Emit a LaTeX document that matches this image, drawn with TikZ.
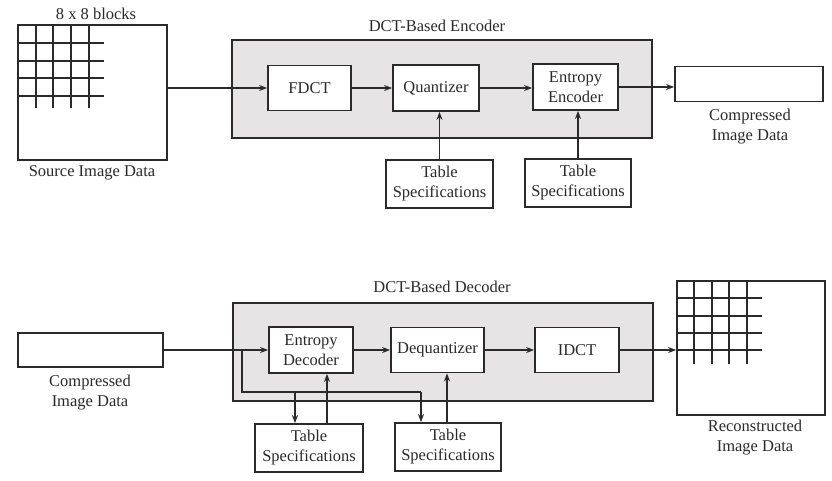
\documentclass[tikz,border=0pt]{standalone}
\usepackage{fontspec}
\setmainfont{Liberation Serif}
\usetikzlibrary{arrows.meta}
\definecolor{ink}{HTML}{2A2A2A}
\definecolor{panel}{HTML}{E6E4E4}
\tikzset{
  txt/.style={font=\fontsize{16.5}{20}\selectfont, text=ink, align=center, inner sep=0pt},
  blockbox/.style={draw=ink, line width=1.8pt, fill=white, txt},
  outerbox/.style={draw=ink, line width=1.8pt, fill=panel},
  conn/.style={draw=ink, line width=1.3pt},
  arr/.style={conn, -{Stealth[length=8pt,width=6pt]}},
  gridline/.style={draw=ink, line width=2pt}
}
\begin{document}
\begin{tikzpicture}[x=1pt,y=-1pt]
\useasboundingbox (0,0) rectangle (832,480);
\fill[white] (0,0) rectangle (832,480);

% ---------------- Encoder ----------------
\node[outerbox, minimum width=420pt, minimum height=98pt] (enc) at (442,89) {};
\node[txt] (enclab) at (437,26) {DCT-Based Encoder};

\node[blockbox, minimum width=149pt, minimum height=135pt] (src) at (92.5,92.5) {};
\foreach \xx in {36,53,71,89} \draw[gridline] (\xx,25) -- (\xx,108);
\foreach \yy in {43,61,78,96} \draw[gridline] (18,\yy) -- (104,\yy);
\node[txt] (srclab) at (96,14) {8 x 8 blocks};
\node[txt] (srcname) at (92,173) {Source Image Data};

\node[blockbox, minimum width=83pt, minimum height=45pt] (fdct) at (309.5,88) {FDCT};
\node[blockbox, minimum width=86pt, minimum height=46pt] (quant) at (436,88) {Quantizer};
\node[blockbox, minimum width=85pt, minimum height=46pt] (ent) at (575.5,87) {Entropy\\Encoder};
\node[blockbox, minimum width=107pt, minimum height=48pt] (ts1) at (439.5,184) {Table\\Specifications};
\node[blockbox, minimum width=106pt, minimum height=48pt] (ts2) at (578,183) {Table\\Specifications};
\node[blockbox, minimum width=148pt, minimum height=35pt] (cmp) at (749,84) {};
\node[txt] (cmplab) at (750,127) {Compressed\\Image Data};

\draw[arr] (fdct.west -| src.east) -- (fdct.west);
\draw[arr] (fdct.east) -- (quant.west);
\draw[arr] (quant.east) -- (quant.east -| ent.west);
\draw[arr] (ent.east) -- (ent.east -| cmp.west);
\draw[arr] (ts1.north) -- (ts1.north |- quant.south);
\draw[arr] (ts2.north) -- (ts2.north |- ent.south);

% ---------------- Decoder ----------------
\node[outerbox, minimum width=420pt, minimum height=98pt] (dec) at (443,352) {};
\node[txt] (declab) at (442,287) {DCT-Based Decoder};

\node[blockbox, minimum width=145pt, minimum height=34pt] (cmp2) at (90.5,350) {};
\node[txt] (cmp2lab) at (90,393) {Compressed\\Image Data};

\node[blockbox, minimum width=84pt, minimum height=46pt] (edec) at (311,350) {Entropy\\Decoder};
\node[blockbox, minimum width=93pt, minimum height=45pt] (deq) at (437.5,350) {Dequantizer};
\node[blockbox, minimum width=84pt, minimum height=45pt] (idct) at (577,350) {IDCT};
\node[blockbox, minimum width=108pt, minimum height=48pt] (ts3) at (309,448) {Table\\Specifications};
\node[blockbox, minimum width=106pt, minimum height=48pt] (ts4) at (448,447) {Table\\Specifications};

\node[blockbox, minimum width=148pt, minimum height=134pt] (rec) at (751,348) {};
\foreach \xx in {694,712,729,747} \draw[gridline] (\xx,281) -- (\xx,364);
\foreach \yy in {298,316,333,350} \draw[gridline] (677,\yy) -- (762,\yy);
\node[txt] (reclab) at (755,438) {Reconstructed\\Image Data};

\coordinate (br) at (242,350);
\coordinate (brdown) at (242,392);
\coordinate (brright) at (421,392);
\coordinate (tap3) at (295,392);

\draw[arr] (cmp2.east) -- (cmp2.east -| edec.west);
\draw[conn] (br) -- (brdown) -- (brright);
\draw[arr] (brright) -- (brright |- ts4.north);
\draw[arr] (tap3) -- (tap3 |- ts3.north);
\draw[arr] (edec.east) -- (edec.east -| deq.west);
\draw[arr] (deq.east) -- (deq.east -| idct.west);
\draw[arr] (idct.east) -- (idct.east -| rec.west);
\draw[arr] (327,0 |- ts3.north) -- (327,0 |- edec.south);
\draw[arr] (447,0 |- ts4.north) -- (447,0 |- deq.south);
\end{tikzpicture}
\end{document}
